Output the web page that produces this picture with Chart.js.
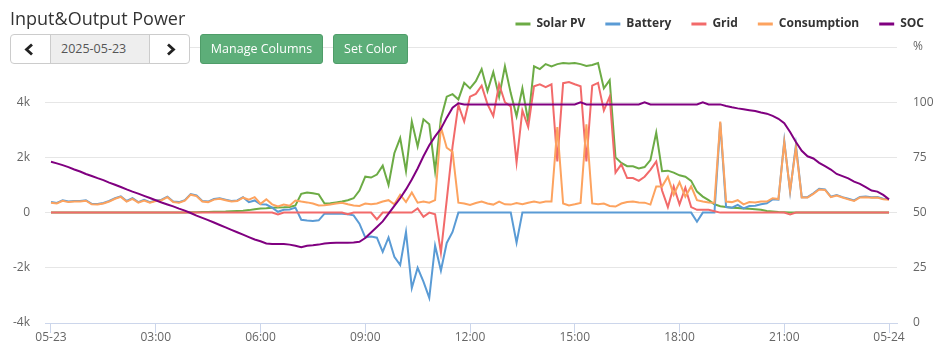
<!DOCTYPE html>
<html>
<head>
<meta charset="utf-8">
<title>Input&amp;Output Power</title>
<script src="https://cdn.jsdelivr.net/npm/chart.js"></script>
<style>
  html, body { margin:0; padding:0; background:#fff; }
  #wrap { position:relative; width:944px; height:360px; overflow:hidden; font-family:"Open Sans", sans-serif; }
  #chart { position:absolute; left:0; top:0; }
  #title { position:absolute; left:10px; top:6px; font-size:18px; line-height:24px; color:#333; white-space:nowrap; }
  #datebox { position:absolute; left:10px; top:34px; width:180px; height:30px; box-sizing:border-box; border:1px solid #ccc; border-radius:4px; background:#fff; }
  #datebox svg { position:absolute; left:0; top:0; }
  #datebox .mid { position:absolute; left:39px; top:0; width:100px; height:28px; box-sizing:border-box; border-left:1px solid #ccc; border-right:1px solid #ccc; background:#eee; color:#555; font-size:12.5px; line-height:28px; padding-left:10px; }
  .btn { position:absolute; top:34px; height:30px; box-sizing:border-box; border:1px solid #4f9d69; border-radius:3px; background:#5dae79; color:#fff; font-size:12.5px; line-height:28px; text-align:center; white-space:nowrap; }
</style>
</head>
<body>
<div id="wrap">
  <canvas id="chart" width="944" height="360"></canvas>
  <div id="title">Input&amp;Output Power</div>
  <div id="datebox">
    <svg width="178" height="28" viewBox="0 0 178 28">
      <polyline points="21,9.5 15.5,14.5 21,19.5" fill="none" stroke="#222" stroke-width="2.8"/>
      <polyline points="157,9.5 162.5,14.5 157,19.5" fill="none" stroke="#222" stroke-width="2.8"/>
    </svg>
    <div class="mid">2025-05-23</div>
  </div>
  <div class="btn" style="left:200px;width:123px;">Manage Columns</div>
  <div class="btn" style="left:333px;width:75px;">Set Color</div>
</div>
<script>
// ---- data: one value every 10 minutes from 00:00 to 24:00 (145 samples) ----
const STEP_MIN = 10;

const solarPV = [
  0,0,0,0,0,0,0,0,0,0,0,0,
  0,0,0,0,0,0,0,0,0,0,0,0,
  10,15,20,25,30,35,40,50,60,70,90,120,
  150,160,175,185,190,200,260,680,730,700,660,330,
  340,370,400,450,520,800,1300,1270,1380,1700,1000,2150,
  2700,1500,3300,2400,3380,3200,1500,3400,4200,4290,4100,4700,
  4500,4760,5200,4400,5090,4200,5300,4330,3490,4500,3300,5300,
  5200,5380,5300,5380,5420,5400,5420,5380,5310,5350,5420,4500,
  4800,2000,1800,1680,1680,1600,1650,1900,2900,1500,1520,1450,
  1350,1300,1150,760,580,450,300,230,200,180,170,150,
  140,120,100,60,40,20,10,0,0,0,0,0,
  0,0,0,0,0,0,0,0,0,0,0,0,
  0
];

const battery = [
  380,350,450,400,420,420,450,320,310,350,420,520,
  590,420,520,380,460,380,440,470,580,400,380,450,
  670,620,420,400,490,520,470,420,440,560,380,440,
  300,290,180,30,100,110,180,-260,-290,-300,-280,-40,
  -40,-40,-40,-60,-100,-400,-900,-870,-910,-1420,-900,-1600,
  -1900,-700,-2730,-2000,-2500,-3090,-1200,-2100,-1100,-700,0,0,
  0,0,0,0,0,0,0,0,-1090,0,0,0,
  0,0,0,0,0,0,0,0,0,0,0,0,
  0,0,0,0,0,0,0,0,0,0,0,0,
  0,0,0,-330,0,0,0,3250,200,180,280,150,
  240,250,300,340,480,470,2600,750,2450,560,560,700,
  860,840,580,640,560,500,440,570,580,560,565,500,
  490
];

const grid = [
  0,0,0,0,0,0,0,0,0,0,0,0,
  0,0,0,0,0,0,0,0,0,0,0,0,
  0,0,0,0,0,0,0,0,0,0,0,0,
  0,0,0,-70,0,0,0,0,0,0,0,0,
  0,0,0,-60,0,0,0,0,-250,0,0,0,
  0,0,0,150,-150,0,-60,-1450,450,2400,3900,3300,
  4200,4300,4600,3930,3500,4650,4000,3850,1820,3700,3100,4580,
  4650,4545,4650,1850,4690,4730,4650,4580,1850,4600,4700,3700,
  4200,1450,1750,1250,1250,1150,1300,1550,1850,800,200,950,
  300,900,200,100,100,100,50,0,0,0,0,0,
  0,0,0,0,0,0,0,-70,0,0,0,0,
  0,0,0,0,0,0,0,0,0,0,0,0,
  0
];

const consumption = [
  360,330,430,380,400,400,430,300,290,330,400,500,
  570,400,500,360,440,360,420,450,560,380,360,430,
  650,600,400,380,470,500,450,400,420,540,470,560,
  320,480,300,220,290,250,440,400,370,330,260,270,
  290,330,360,300,260,240,330,300,330,400,450,300,
  650,380,730,360,400,360,450,3100,2350,2200,360,330,
  280,350,400,330,290,400,300,290,350,300,360,400,
  360,400,400,3100,330,260,300,350,3200,330,300,330,
  240,220,330,380,400,370,360,290,950,950,1300,650,
  1100,580,950,450,400,370,360,3300,400,380,450,300,
  380,370,400,400,520,490,2550,800,2350,550,545,680,
  840,820,560,620,545,480,420,550,560,540,545,480,
  470
];

const soc = [
  73.0,72.3,71.5,70.6,69.5,68.6,67.5,66.6,65.6,64.7,63.6,62.6,
  61.6,60.5,59.5,58.6,57.6,56.6,55.6,54.6,53.7,52.8,51.8,50.9,
  49.8,48.6,47.6,46.6,45.5,44.4,43.3,42.2,41.1,40.0,38.9,37.8,
  37.0,36.0,35.8,35.8,35.8,35.5,35.0,34.3,35.0,35.2,35.5,36.0,
  36.2,36.4,36.4,36.4,36.5,36.8,38.5,41.0,43.5,46.0,49.5,53.0,
  56.5,60.5,65.0,70.0,75.5,80.5,84.5,88.0,93.0,97.5,99.5,99,
  99,99,99,99,99,99,99,99,99,99,99,99,
  99,99,99,99,99,99,99,100,99,99,99,99,
  99,99,99,99,99,99,100,99,99,99,99,99,
  99,99,99,99,100,99,99,99,98.3,97.7,97.2,96.8,
  96.4,96.0,95.3,94.8,93.8,92.5,90.5,86.5,82.0,78.0,75.5,74.5,
  72.5,71.0,69.5,67.5,66.5,65.5,64.0,63.0,61.5,60.0,59.5,58.0,
  56.0
];

const seriesNames = ['Solar PV', 'Battery', 'Grid', 'Consumption', 'SOC'];
const xTickMinutes = [0, 180, 360, 540, 720, 900, 1080, 1260, 1440];
const xTickLabels = ['05-23', '03:00', '06:00', '09:00', '12:00', '15:00', '18:00', '21:00', '05-24'];
const powerTickValues = [-4000, -2000, 0, 2000, 4000, 6000];
const powerTickLabels = ['-4k', '-2k', '0', '2k', '4k', ''];
const socTickValues = [0, 25, 50, 75, 100, 125];
const socTickLabels = ['0', '25', '50', '75', '100', '%'];

// ---- styling ----
const COLORS = ['#6cab45', '#5a9bd5', '#f26a6a', '#fda35f', '#800080'];
const FONT = '"Open Sans", sans-serif';
const TICK_COLOR = '#666';

const toPoints = arr => arr.map((v, i) => ({ x: i * STEP_MIN, y: v }));
const fixedTicks = values => scale => { scale.ticks = values.map(v => ({ value: v })); };
const labelFrom = (values, labels) => v => { const k = values.indexOf(v); return k < 0 ? '' : labels[k]; };

const legendGap = {
  id: 'legendGap',
  beforeLayout(chart) {
    const lg = chart.legend;
    if (lg && !lg._gapPatched) {
      const orig = lg.fit;
      lg.fit = function () { orig.call(this); this.height += 7; };
      lg._gapPatched = true;
    }
  }
};

const seriesData = [solarPV, battery, grid, consumption, soc];
const drawOrder = [4, 3, 2, 1, 0];

const datasets = seriesData.map((arr, k) => ({
  label: seriesNames[k],
  data: toPoints(arr),
  borderColor: COLORS[k],
  backgroundColor: COLORS[k],
  borderWidth: 2,
  pointRadius: 0,
  pointHoverRadius: 0,
  pointBorderWidth: 3,
  tension: 0,
  fill: false,
  order: drawOrder[k],
  yAxisID: k === 4 ? 'y1' : 'y'
}));

new Chart(document.getElementById('chart'), {
  type: 'line',
  data: { datasets },
  options: {
    responsive: false,
    animation: false,
    events: [],
    layout: { padding: { top: -2, right: 0, bottom: 0, left: 0 } },
    plugins: {
      legend: {
        position: 'top',
        align: 'end',
        labels: {
          usePointStyle: true,
          pointStyle: 'line',
          pointStyleWidth: 15,
          boxHeight: 12,
          padding: 20,
          color: '#333',
          font: { family: FONT, size: 12, weight: 'bold' },
          sort: (a, b) => a.datasetIndex - b.datasetIndex
        }
      },
      tooltip: { enabled: false },
      title: { display: false }
    },
    scales: {
      x: {
        type: 'linear',
        min: -10.3,
        max: 1453.7,
        afterBuildTicks: fixedTicks(xTickMinutes),
        afterFit: s => { s.height = 37; },
        grid: { display: true, drawOnChartArea: false, drawTicks: true, tickLength: 10, color: '#ccd6eb', tickColor: '#ccd6eb' },
        border: { display: true, color: '#ccd6eb', width: 1 },
        ticks: { autoSkip: false, maxRotation: 0, minRotation: 0, padding: -3, color: TICK_COLOR, font: { family: FONT, size: 12 }, callback: labelFrom(xTickMinutes, xTickLabels) }
      },
      y: {
        position: 'left',
        min: -4000,
        max: 6000,
        afterBuildTicks: fixedTicks(powerTickValues),
        afterFit: s => { s.width = 45; },
        grid: { color: c => (c.tick && c.tick.value === -4000 ? '#ccd6eb' : '#e6e6e6'), drawTicks: false, lineWidth: 1 },
        border: { display: false },
        ticks: { padding: 15, color: TICK_COLOR, font: { family: FONT, size: 12 }, callback: labelFrom(powerTickValues, powerTickLabels) }
      },
      y1: {
        position: 'right',
        min: 0,
        max: 125,
        afterBuildTicks: fixedTicks(socTickValues),
        afterFit: s => { s.width = 47; },
        grid: { display: true, drawOnChartArea: false, drawTicks: false },
        border: { display: false },
        ticks: { padding: 16, color: TICK_COLOR, font: { family: FONT, size: 12 }, callback: labelFrom(socTickValues, socTickLabels) }
      }
    }
  },
  plugins: [legendGap]
});
</script>
</body>
</html>
